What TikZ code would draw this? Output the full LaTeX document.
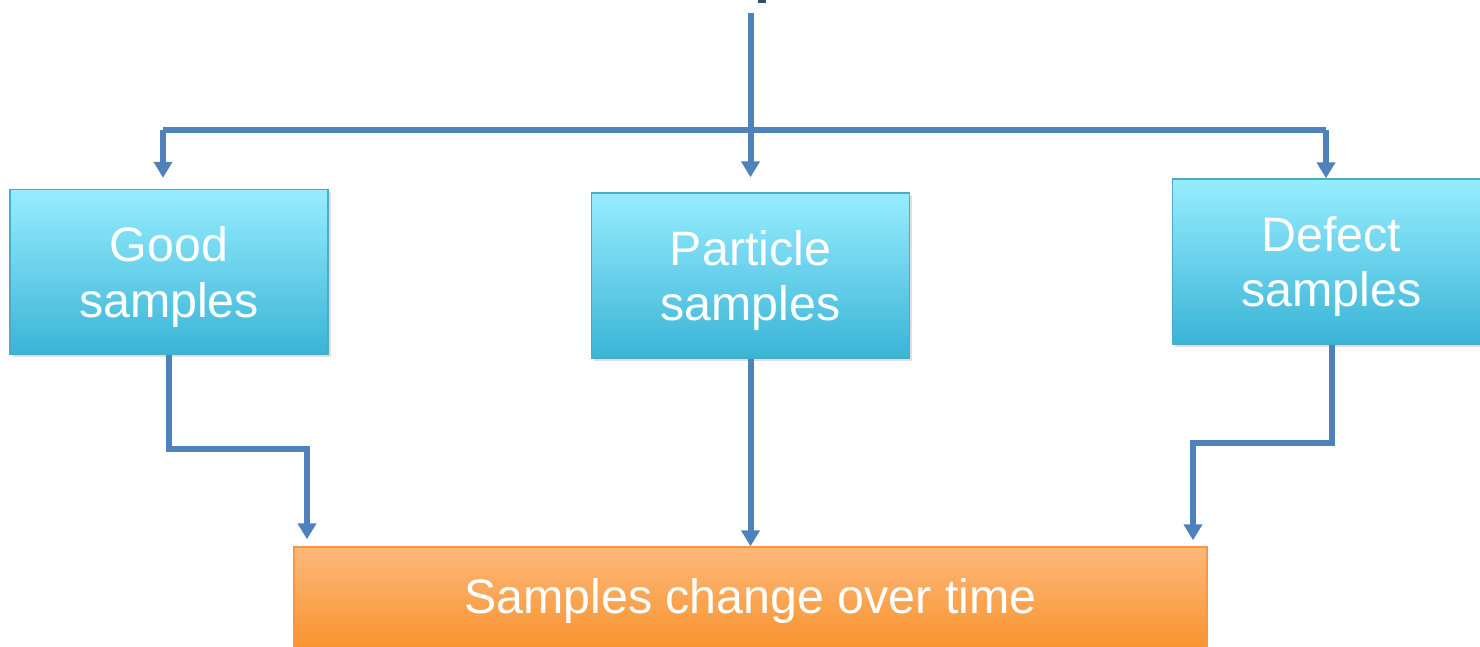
\documentclass[tikz,border=0pt]{standalone}
\usepackage{fontspec}
\setmainfont{Liberation Sans}
\usepackage{tikz}
\usetikzlibrary{arrows.meta, positioning, calc, shadows}

\definecolor{linkblue}{RGB}{79,129,189}
\definecolor{cyantop}{RGB}{151,237,255}
\definecolor{cyanbot}{RGB}{58,180,214}
\definecolor{cyanedge}{RGB}{75,172,198}
\definecolor{orangetop}{RGB}{253,184,122}
\definecolor{orangebot}{RGB}{248,145,42}
\definecolor{orangeedge}{RGB}{247,150,70}

\tikzset{
  samplebox/.style={draw=cyanedge, line width=0.8pt, top color=cyantop, bottom color=cyanbot,
    minimum width=6.36cm, minimum height=3.3cm, align=center, text=white,
    font=\fontsize{27.5}{31.5}\selectfont, text depth=0pt,
    drop shadow={opacity=0.25, shadow xshift=0.05cm, shadow yshift=-0.05cm}},
  resultbox/.style={draw=orangeedge, line width=0.8pt, top color=orangetop, bottom color=orangebot,
    minimum width=18.26cm, minimum height=2.16cm, text=white,
    font=\fontsize{27.5}{32}\selectfont},
  link/.style={draw=linkblue, line width=3.4pt},
  flow/.style={link, -{Triangle[width=0.36cm,length=0.32cm]}}
}

\begin{document}
\begin{tikzpicture}
\clip (0,0) rectangle (29.6,-12.92);
\fill[white] (0,0) rectangle (29.6,-12.92);

% sample groups
\node[samplebox] (good) at (3.38,-5.44) {Good\\samples};
\node[samplebox] (particle) at (15.01,-5.51) {Particle\\samples};
\node[samplebox] (defect) at (26.63,-5.23) {Defect\\samples};
\node[resultbox] (change) at (15.01,-12.02) {Samples change over time};

% cut-off piece at the top
\fill[linkblue!60!black] (15.16,0) rectangle (15.31,-0.05);

\coordinate (top) at (15.01,-0.26);
\coordinate (barL) at (3.26,-2.6);
\coordinate (barR) at (26.52,-2.6);
\coordinate (jogL) at (6.14,-8.98);
\coordinate (jogR) at (23.86,-8.86);

% split from the top
\draw[link] (barL) -- (barR);
\draw[flow, shorten >=0.3cm] (top) -- (top |- particle.north);
\draw[flow, shorten >=0.22cm] (barL) -- (barL |- good.north);
\draw[flow] (barR) -- (barR |- defect.north);

% into the result
\draw[flow, shorten >=0.14cm] (good.south) |- (jogL) -- (jogL |- change.north);
\draw[flow] (particle.south) -- (change.north);
\draw[flow, shorten >=0.12cm] (defect.south) |- (jogR) -- (jogR |- change.north);
\end{tikzpicture}
\end{document}
